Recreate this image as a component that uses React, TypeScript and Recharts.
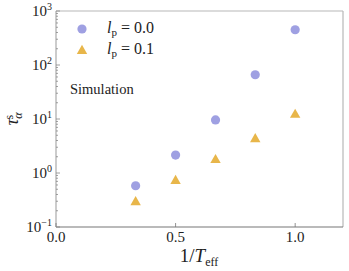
import React from "react";
import { ScatterChart, Scatter, XAxis, YAxis, ZAxis, ReferenceLine, Legend, Label } from "recharts";

// 1/T_eff values
const invTemps = [0.333, 0.5, 0.667, 0.833, 1.0];
// relaxation time tau_alpha^s for each persistence length
const tauLp00 = [0.58, 2.15, 9.6, 66, 450];
const tauLp01 = [0.3, 0.74, 1.8, 4.4, 12.4];

const xTicks = [0, 0.5, 1.0];
const yMajorTicks = [0.1, 1, 10, 100, 1000];
const yMinorTicks = [0.2, 0.3, 0.4, 0.5, 0.6, 0.7, 0.8, 0.9, 2, 3, 4, 5, 6, 7, 8, 9, 20, 30, 40, 50, 60, 70, 80, 90, 200, 300, 400, 500, 600, 700, 800, 900];
const yExponents: Record<string, string> = { "0.1": "\u22121", "1": "0", "10": "1", "100": "2", "1000": "3" };

const seriesA = invTemps.map((x, i) => ({ x, y: tauLp00[i] }));
const seriesB = invTemps.map((x, i) => ({ x, y: tauLp01[i] }));

const BLUE = "#9fa0e2";
const GOLD = "#e8b64a";
const FONT = "Liberation Serif, DejaVu Serif, serif";
const TICK_MARGIN = 4;

const YTick = (props: any) => {
  const { x, y, payload } = props;
  const axisX = x + TICK_MARGIN;
  const exp = yExponents[String(payload.value)];
  if (exp === undefined) {
    return <line x1={axisX} x2={axisX + 2} y1={y} y2={y} stroke="#888" strokeWidth={0.8} />;
  }
  return (
    <g>
      <line x1={axisX} x2={axisX + 4} y1={y} y2={y} stroke="#888" strokeWidth={0.8} />
      <text x={x} y={y} textAnchor="end" fontFamily={FONT} fontSize={15} fill="#222" dy="0.35em">
        10<tspan fontSize={10} dy="-0.6em">{exp}</tspan>
      </text>
    </g>
  );
};

const XTick = (props: any) => {
  const { x, y, payload } = props;
  return (
    <g>
      <line x1={x} x2={x} y1={y - TICK_MARGIN} y2={y - TICK_MARGIN - 4} stroke="#777" strokeWidth={0.8} />
      <text x={x} y={y} textAnchor="middle" fontFamily={FONT} fontSize={15} fill="#222" dy="0.75em">
        {payload.value.toFixed(1)}
      </text>
    </g>
  );
};

const Triangle = (props: any) => {
  const { cx, cy } = props;
  const s = 5.2;
  return <path d={`M${cx},${cy - s} L${cx + s},${cy + s * 0.75} L${cx - s},${cy + s * 0.75} Z`} fill={GOLD} />;
};

const Dot = (props: any) => {
  const { cx, cy } = props;
  return <circle cx={cx} cy={cy} r={4.6} fill={BLUE} />;
};

const renderLegend = (props: any) => {
  const { payload } = props;
  return (
    <div style={{ fontFamily: FONT, color: "#222", position: "relative", textAlign: "left", width: 90 }}>
      {payload.map((entry: any, i: number) => (
        <div key={entry.value} style={{ display: "flex", alignItems: "center", height: 21, fontSize: 16 }}>
          <svg width={24} height={14}>
            {i === 0 ? (
              <circle cx={12} cy={7} r={4.6} fill={BLUE} />
            ) : (
              <path d="M12,1.8 L17.2,10.9 L6.8,10.9 Z" fill={GOLD} />
            )}
          </svg>
          <span style={{ marginLeft: 13, whiteSpace: "nowrap" }}>
            <i>l</i>
            <sub style={{ fontSize: 11, verticalAlign: "-0.25em" }}>p</sub> = {entry.value}
          </span>
        </div>
      ))}
      <div style={{ position: "absolute", left: 0, top: 63, fontSize: 14.5, whiteSpace: "nowrap" }}>Simulation</div>
    </div>
  );
};

const XLabel = () => (
  <text x={199} y={262} textAnchor="middle" fontFamily={FONT} fontSize={19} fill="#222">
    1/<tspan fontStyle="italic">T</tspan>
    <tspan fontSize={12} dy="0.3em">eff</tspan>
  </text>
);

const YLabel = (props: any) => {
  const { viewBox } = props;
  const cy = viewBox.y + viewBox.height / 2;
  return (
    <text x={0} y={0} transform={`translate(18, ${cy}) rotate(-90)`} textAnchor="middle" fontFamily={FONT} fontSize={19} fill="#222">
      <tspan fontStyle="italic">τ</tspan>
      <tspan fontSize={12} fontStyle="italic" dy="0.3em">α</tspan>
      <tspan fontSize={12} dx="-7" dy="-0.75em">s</tspan>
    </text>
  );
};

export default function App() {
  return (
    <div style={{ position: "absolute", left: 0, top: 0, background: "#fff" }}>
      <ScatterChart width={349} height={271} margin={{ top: 11, right: 6, left: 0, bottom: 0 }}>
        <XAxis
          type="number"
          dataKey="x"
          domain={[0, 1.2]}
          ticks={xTicks}
          tick={<XTick />}
          tickLine={false}
          tickSize={0}
          tickMargin={TICK_MARGIN}
          height={44}
          axisLine={{ stroke: "#777", strokeWidth: 1.2 }}
        >
          <Label content={<XLabel />} />
        </XAxis>
        <YAxis
          type="number"
          dataKey="y"
          scale="log"
          domain={[0.1, 1000]}
          allowDataOverflow
          ticks={[...yMajorTicks, ...yMinorTicks]}
          interval={0}
          tick={<YTick />}
          tickLine={false}
          tickSize={0}
          tickMargin={TICK_MARGIN}
          width={56}
          axisLine={{ stroke: "#aaa", strokeWidth: 1.2 }}
        >
          <Label content={<YLabel />} />
        </YAxis>
        <ZAxis range={[64, 64]} />
        <ReferenceLine y={1000} stroke="#b8b8b8" strokeWidth={1.2} />
        <ReferenceLine x={1.2} stroke="#b8b8b8" strokeWidth={1.2} />
        <Legend
          layout="vertical"
          align="center"
          verticalAlign="middle"
          content={renderLegend}
          wrapperStyle={{ position: "absolute", left: 70, top: 18, width: "auto", height: "auto" }}
        />
        <Scatter name="0.0" data={seriesA} fill={BLUE} shape={<Dot />} isAnimationActive={false} />
        <Scatter name="0.1" data={seriesB} fill={GOLD} shape={<Triangle />} isAnimationActive={false} />
      </ScatterChart>
    </div>
  );
}
